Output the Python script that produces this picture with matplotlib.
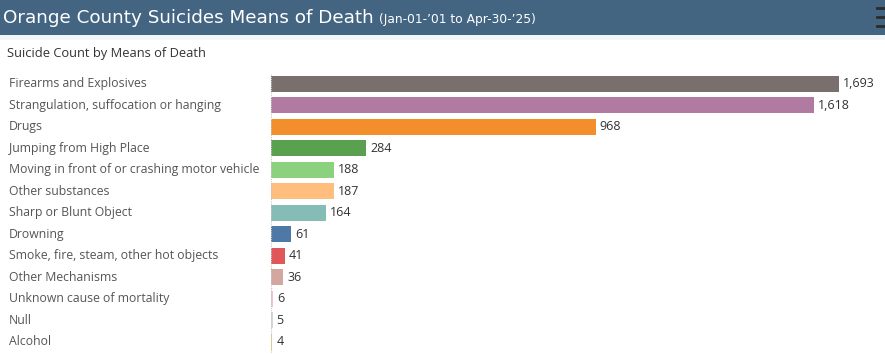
import matplotlib.pyplot as plt
import matplotlib.transforms as mtransforms
from matplotlib.patches import Rectangle
from matplotlib.lines import Line2D

# data
means = ["Firearms and Explosives", "Strangulation, suffocation or hanging", "Drugs",
         "Jumping from High Place", "Moving in front of or crashing motor vehicle",
         "Other substances", "Sharp or Blunt Object", "Drowning",
         "Smoke, fire, steam, other hot objects", "Other Mechanisms",
         "Unknown cause of mortality", "Null", "Alcohol"]
counts = [1693, 1618, 968, 284, 188, 187, 164, 61, 41, 36, 6, 5, 4]
colors = ["#79706e", "#b07aa1", "#f28e2b", "#59a14f", "#8cd17d", "#ffbe7d", "#86bcb6",
          "#4e79a7", "#e15759", "#d4a6a0", "#fabfd2", "#d7d7d7", "#f1ce63"]

W, H = 885, 354
fig = plt.figure(figsize=(W / 100, H / 100), dpi=100)
fig.patch.set_facecolor("white")

# header band
fig.add_artist(Rectangle((0, 1 - 35 / H), 1, 35 / H, transform=fig.transFigure,
                         facecolor="#436582", edgecolor="none"))
fig.add_artist(Rectangle((0, 1 - 40 / H), 1, 5 / H, transform=fig.transFigure,
                         facecolor="#f3f6f8", edgecolor="none"))
title = fig.text(3 / W, 1 - 18 / H, "Orange County Suicides Means of Death",
                 color="white", fontsize=13.2, va="center", ha="left")
fig.canvas.draw()
bb = title.get_window_extent()
fig.text(bb.x1 / W + 5 / W, 1 - 19 / H, "(Jan-01-\u201901 to Apr-30-\u201925)",
         color="white", fontsize=8.8, va="center", ha="left")
# menu icon
for yy in (8, 17, 26):
    fig.add_artist(Line2D([877 / W, 885 / W], [1 - yy / H, 1 - yy / H],
                          transform=fig.transFigure, color="#2b2b2b", lw=2))

fig.text(7 / W, 1 - 53 / H, "Suicide Count by Means of Death", color="#333333",
         fontsize=9.3, va="center", ha="left", family="Open Sans")

ax = fig.add_axes([271 / W, 1.5 / H, 600 / W, 279.5 / H])
xmax = 1693 * 600 / 568
y = list(range(len(means)))
ax.barh(y, counts, height=0.74, color=colors)
ax.set_xlim(0, xmax)
ax.set_ylim(len(means) - 0.5, -0.5)
for s in ax.spines.values():
    s.set_visible(False)
ax.axvline(0, color="#c8c8c8", lw=0.8, ls=(0, (1, 1)))
ax.set_xticks([])
ax.set_yticks([])
ax.set_facecolor("none")

lab_tr = mtransforms.blended_transform_factory(fig.transFigure, ax.transData)
for i, (m, c) in enumerate(zip(means, counts)):
    ax.text(c + xmax * 4 / 600, i, f"{c:,}", va="center", ha="left",
            fontsize=9, color="#333333", family="Open Sans")
    ax.text(9 / W, i, m, transform=lab_tr, va="center", ha="left",
            fontsize=8.8, color="#555555", family="Open Sans")

fig.savefig("out.png", dpi=100)
